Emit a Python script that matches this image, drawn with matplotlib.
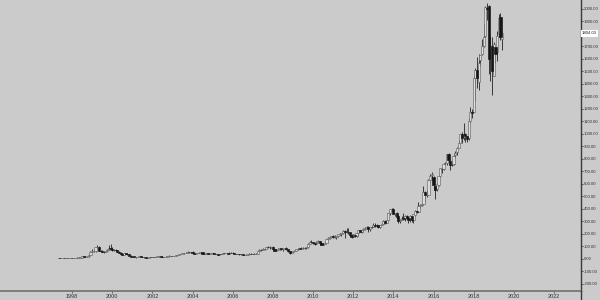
import numpy as np
import matplotlib
matplotlib.use("Agg")
import matplotlib.pyplot as plt
from matplotlib.lines import Line2D
import matplotlib.transforms as mtransforms

# Monthly OHLC, starting May 1997
start_year, start_month = 1997, 5

opens = [
    2.44, 1.73, 1.60, 2.50, 2.20, 4.40, 4.20, 4.70,
    5.0, 4.9, 5.5, 7.0, 7.9, 8.1, 8.2, 19.0, 14.0, 16.3, 16.8, 29.0,
    53.5, 58.5, 64.1, 88.8, 96.5, 58.9, 62.6, 56.5, 55.3, 64.0, 70.6, 85.1,
    76.1, 64.6, 68.9, 67.0, 55.2, 48.3, 36.3, 30.1, 41.5, 38.4, 36.6, 24.2,
    15.6, 17.3, 10.2, 10.2, 15.8, 16.7, 14.2, 12.5, 8.9, 6.0, 6.9, 11.0,
    10.8, 14.2, 14.1, 14.3, 16.7, 18.2, 16.3, 14.5, 14.9, 15.9, 19.4, 23.4,
    18.9, 21.9, 22.0, 26.0, 28.7, 35.9, 36.3, 41.6, 46.3, 48.4, 54.4, 48.7,
    52.6, 43.0, 40.1, 43.3, 43.6, 48.5, 54.4, 38.9, 38.1, 40.9, 34.1, 39.7,
    44.3, 43.2, 36.0, 34.3, 32.4, 35.5, 33.1, 45.2, 42.7, 45.3, 39.9, 48.5,
    47.2, 45.0, 37.4, 36.5, 35.2, 34.6, 38.7, 27.0, 30.8, 32.1, 38.1, 40.3,
    39.5, 37.7, 39.1, 39.8, 61.3, 69.1, 68.4, 78.5, 79.9, 93.2, 89.2, 90.6,
    92.6, 77.7, 64.5, 71.3, 78.6, 81.6, 73.3, 76.3, 80.8, 72.8, 57.2, 42.7,
    51.4, 58.6, 64.3, 74.0, 80.8, 77.7, 83.7, 85.8, 81.2, 92.7, 118.3, 136.6,
    136.3, 125.3, 118.7, 135.7, 137.9, 126.0, 108.6, 118.3, 124.7, 157.1, 164.5, 176.7,
    181.4, 170.5, 173.5, 181.6, 196.6, 196.3, 205.6, 221.7, 213.8, 214.0, 212.2, 190.3,
    175.9, 190.4, 179.3, 203.6, 229.3, 212.2, 225.5, 234.3, 246.6, 254.7, 234.2, 253.1,
    256.1, 266.0, 266.3, 266.0, 251.3, 267.0, 278.0, 303.0, 287.9, 310.6, 362.5, 394.6,
    398.8, 356.8, 362.0, 338.0, 304.1, 312.2, 326.3, 313.7, 339.0, 321.1, 305.3, 338.6,
    312.6, 350.1, 380.9, 372.1, 423.6, 428.7, 434.4, 537.0, 507.3, 510.0, 627.1, 666.0,
    656.3, 578.2, 556.3, 590.5, 663.9, 720.0, 720.0, 767.0, 769.3, 836.0, 785.0, 752.4,
    757.9, 829.2, 853.1, 888.0, 927.8, 998.6, 972.8, 996.1, 984.2, 964.0, 1105.4, 1172.1,
    1172.0, 1445.0, 1513.6, 1416.0, 1589.0, 1637.0, 1707.0, 1784.0, 2007.0, 2022.0, 1678.5, 1705.1,
    1465.2, 1692.9, 1655.1, 1800.1, 1933.1, 1760.0,
]
highs = [
    2.50, 2.00, 2.60, 2.80, 4.50, 4.95, 5.40, 5.30,
    5.6, 6.0, 7.4, 8.6, 8.7, 8.9, 22.0, 20.0, 17.5, 17.5, 33.0, 58.0,
    73.0, 68.0, 92.0, 110.6, 97.0, 68.0, 68.0, 62.0, 69.0, 74.0, 106.7, 113.0,
    91.5, 75.0, 75.0, 69.0, 58.0, 51.0, 47.0, 45.0, 47.0, 41.0, 39.0, 26.0,
    22.0, 17.5, 13.0, 16.4, 17.5, 17.4, 16.0, 13.0, 9.6, 8.0, 11.2, 12.0,
    14.8, 15.0, 16.3, 17.5, 19.1, 19.7, 16.5, 15.5, 17.5, 20.0, 25.0, 24.0,
    22.6, 23.7, 26.8, 30.0, 36.9, 38.5, 42.5, 48.0, 50.4, 61.2, 56.0, 53.8,
    57.8, 44.5, 44.8, 47.1, 49.6, 55.4, 54.5, 40.0, 43.7, 41.9, 41.8, 45.2,
    44.9, 43.5, 37.0, 35.3, 36.7, 36.3, 46.4, 46.1, 46.1, 45.6, 49.0, 50.0,
    48.6, 45.2, 38.6, 38.9, 36.2, 39.0, 38.9, 31.5, 33.4, 38.6, 41.8, 41.4,
    40.0, 42.8, 41.5, 63.8, 74.7, 74.7, 84.9, 80.8, 94.5, 101.1, 96.8, 96.2,
    97.4, 78.6, 75.9, 83.0, 84.9, 83.0, 79.6, 88.0, 89.4, 72.5, 59.6, 59.0,
    61.0, 67.0, 75.9, 83.5, 83.0, 90.2, 91.9, 85.9, 96.0, 121.1, 139.2, 145.9,
    136.6, 127.0, 138.6, 150.0, 139.0, 129.2, 124.8, 130.8, 160.2, 169.9, 177.6, 182.9,
    191.6, 191.4, 181.6, 197.8, 206.4, 205.1, 227.8, 227.5, 244.0, 246.7, 216.8, 198.4,
    197.4, 191.2, 205.6, 232.7, 232.6, 228.7, 241.4, 249.2, 264.1, 262.6, 253.5, 261.2,
    286.1, 284.7, 276.0, 272.6, 272.0, 284.4, 307.5, 305.4, 317.9, 368.4, 394.3, 405.6,
    408.1, 364.9, 375.9, 349.2, 315.0, 337.1, 368.7, 345.3, 350.2, 334.2, 352.8, 341.8,
    359.5, 389.4, 390.0, 452.6, 433.4, 446.0, 580.6, 541.5, 550.0, 635.8, 675.0, 696.4,
    657.7, 581.8, 603.2, 670.0, 724.2, 731.5, 766.0, 774.4, 839.0, 847.2, 793.0, 791.3,
    843.8, 860.9, 890.4, 949.6, 1001.2, 1017.0, 1083.3, 1006.2, 985.4, 1122.8, 1213.4, 1194.8,
    1472.6, 1528.7, 1617.5, 1638.1, 1635.0, 1763.1, 1880.1, 2025.6, 2050.5, 2033.2, 1784.0, 1778.3,
    1736.4, 1697.0, 1823.8, 1956.3, 1964.4, 1806.0,
]
lows = [
    1.31, 1.44, 1.55, 2.10, 2.15, 3.40, 3.90, 4.40,
    4.4, 4.7, 5.4, 6.8, 7.3, 7.6, 8.0, 13.0, 13.0, 11.5, 16.0, 27.0,
    50.0, 55.0, 56.0, 80.0, 57.0, 49.0, 53.0, 48.0, 51.0, 60.0, 66.0, 75.0,
    58.0, 63.0, 59.0, 51.0, 41.0, 34.0, 28.7, 29.0, 36.0, 28.0, 22.0, 14.9,
    13.5, 10.0, 8.1, 8.9, 13.8, 12.0, 12.0, 8.4, 5.5, 5.7, 6.8, 9.2,
    10.0, 12.7, 13.5, 14.0, 15.5, 15.8, 10.0, 12.8, 13.5, 15.0, 19.0, 18.5,
    18.3, 20.6, 21.5, 24.9, 28.1, 33.0, 35.2, 40.3, 42.3, 45.5, 47.6, 48.4,
    41.0, 38.6, 38.9, 41.9, 41.5, 47.3, 37.1, 36.8, 37.4, 32.9, 33.3, 39.1,
    39.1, 34.6, 33.4, 30.6, 32.3, 32.8, 33.0, 41.1, 41.0, 39.0, 39.3, 44.3,
    44.5, 36.6, 35.0, 34.2, 31.5, 32.0, 25.8, 26.1, 29.0, 31.1, 37.1, 38.0,
    36.3, 35.3, 36.9, 38.6, 58.9, 65.4, 66.0, 67.1, 79.2, 84.0, 79.4, 88.0,
    69.6, 63.5, 61.4, 70.0, 69.0, 70.7, 63.8, 75.1, 64.6, 48.8, 34.7, 41.2,
    47.6, 56.8, 60.9, 70.6, 73.7, 77.0, 79.0, 78.8, 78.3, 86.1, 115.5, 125.9,
    115.0, 111.3, 115.0, 128.4, 105.8, 108.2, 105.3, 117.6, 124.0, 148.5, 157.5, 170.5,
    161.2, 167.8, 160.6, 175.8, 190.9, 181.6, 201.8, 166.9, 201.6, 194.5, 177.7, 167.0,
    171.4, 175.7, 176.2, 184.2, 210.0, 208.4, 212.6, 229.1, 242.9, 215.4, 224.4, 245.5,
    253.2, 255.3, 256.4, 246.3, 246.0, 266.0, 273.0, 278.0, 284.7, 300.5, 348.8, 380.0,
    356.5, 342.5, 318.3, 284.0, 284.4, 310.3, 309.7, 304.9, 320.8, 284.4, 296.1, 292.0,
    285.3, 344.0, 368.2, 370.3, 408.2, 422.1, 431.1, 452.0, 490.6, 506.0, 616.5, 627.9,
    547.2, 474.0, 538.6, 585.3, 656.0, 682.1, 708.0, 752.0, 753.4, 775.0, 710.1, 740.0,
    747.7, 803.0, 833.5, 884.5, 927.8, 927.0, 951.0, 931.4, 937.4, 950.4, 1086.9, 1124.7,
    1170.5, 1265.9, 1365.2, 1352.9, 1546.0, 1635.1, 1698.6, 1776.0, 1912.5, 1476.4, 1420.0, 1307.0,
    1460.9, 1566.8, 1586.6, 1775.7, 1749.0, 1672.0,
]
closes = [
    1.73, 1.60, 2.50, 2.20, 4.40, 4.20, 4.70, 5.02,
    4.9, 5.5, 7.0, 7.9, 8.1, 8.2, 19.0, 14.0, 16.3, 16.8, 29.0, 53.5,
    58.5, 64.1, 88.8, 96.5, 58.9, 62.6, 56.5, 55.3, 64.0, 70.6, 85.1, 76.1,
    64.6, 68.9, 67.0, 55.2, 48.3, 36.3, 30.1, 41.5, 38.4, 36.6, 24.2, 15.6,
    17.3, 10.2, 10.2, 15.8, 16.7, 14.2, 12.5, 8.9, 6.0, 6.9, 11.0, 10.8,
    14.2, 14.1, 14.3, 16.7, 18.2, 16.3, 14.5, 14.9, 15.9, 19.4, 23.4, 18.9,
    21.9, 22.0, 26.0, 28.7, 35.9, 36.3, 41.6, 46.3, 48.4, 54.4, 48.7, 52.6,
    43.0, 40.1, 43.3, 43.6, 48.5, 54.4, 38.9, 38.1, 40.9, 34.1, 39.7, 44.3,
    43.2, 36.0, 34.3, 32.4, 35.5, 33.1, 45.2, 42.7, 45.3, 39.9, 48.5, 47.2,
    45.0, 37.4, 36.5, 35.2, 34.6, 38.7, 27.0, 30.8, 32.1, 38.1, 40.3, 39.5,
    37.7, 39.1, 39.8, 61.3, 69.1, 68.4, 78.5, 79.9, 93.2, 89.2, 90.6, 92.6,
    77.7, 64.5, 71.3, 78.6, 81.6, 73.3, 76.3, 80.8, 72.8, 57.2, 42.7, 51.3,
    58.8, 64.8, 73.4, 80.5, 78.0, 83.7, 85.8, 81.2, 93.4, 118.8, 135.9, 134.5,
    125.4, 118.4, 135.8, 137.1, 125.5, 109.3, 117.9, 124.8, 157.1, 165.2, 175.4, 180.0,
    169.6, 173.3, 180.1, 195.8, 196.7, 204.5, 222.5, 215.2, 216.2, 213.5, 192.3, 173.1,
    194.4, 179.7, 202.5, 231.9, 212.9, 228.4, 233.3, 248.3, 254.3, 232.9, 252.1, 250.9,
    265.5, 264.3, 266.5, 253.8, 269.2, 277.7, 301.2, 281.0, 312.6, 364.0, 393.6, 398.8,
    358.7, 362.1, 336.4, 304.1, 312.6, 324.8, 313.0, 339.0, 322.4, 305.5, 338.6, 310.4,
    354.5, 380.2, 372.1, 421.8, 429.2, 434.1, 536.2, 512.9, 511.9, 625.9, 664.8, 675.9,
    587.0, 552.5, 593.6, 659.6, 722.8, 715.6, 758.8, 769.2, 837.3, 789.8, 750.6, 749.9,
    823.5, 845.0, 886.5, 925.0, 994.6, 968.0, 987.8, 980.6, 961.4, 1105.3, 1176.8, 1169.5,
    1450.9, 1512.5, 1447.3, 1566.1, 1629.6, 1699.8, 1777.4, 2012.7, 2003.0, 1598.0, 1690.2, 1502.0,
    1718.7, 1639.8, 1780.8, 1926.5, 1775.1, 1804.03,
]

year_ticks = list(range(1998, 2023, 2))
price_ticks = list(range(-200, 2001, 100))
hidden_price_tick = 1800  # covered by the last-price marker in the reference
last_label = "1804.03"

o = np.array(opens); h = np.array(highs); l = np.array(lows); c = np.array(closes)
n = len(c)
x = np.array([start_year + (start_month - 1 + i) / 12.0 for i in range(n)])

plt.rcParams["font.family"] = ["Liberation Sans", "DejaVu Sans"]

BG = "#cbcbcb"
fig = plt.figure(figsize=(6, 3), dpi=100, facecolor=BG)
ax = fig.add_axes([0, 9.5 / 300, 580.5 / 600, 290.5 / 300], facecolor=BG)

# wicks
ax.vlines(x, l, h, color="#222222", lw=0.6, zorder=2)
# bodies
up = c >= o
bottoms = np.minimum(o, c)
heights = np.maximum(np.abs(c - o), 1.0)
ax.bar(x[up], heights[up], bottom=bottoms[up], width=0.11,
       color="#dcdcdc", edgecolor="#666666", linewidth=0.45, zorder=3)
ax.bar(x[~up], heights[~up], bottom=bottoms[~up], width=0.11,
       color="#151515", edgecolor="#151515", linewidth=0.45, zorder=3)

ax.set_xlim(1994.41, 2023.32)
ax.set_ylim(-256, 2072)

for s in ["top", "left"]:
    ax.spines[s].set_visible(False)
ax.spines["right"].set_color("#3a3a3a")
ax.spines["right"].set_linewidth(1.0)
ax.spines["bottom"].set_color("#707070")
ax.spines["bottom"].set_linewidth(1.2)

ax.yaxis.tick_right()
ax.set_yticks(price_ticks)
ax.set_yticklabels(["" if v == hidden_price_tick else f"{v:.2f}" for v in price_ticks])
ax.tick_params(axis="y", direction="out", length=1.5, width=0.6, color="#3a3a3a",
               pad=0.8, labelsize=3.1, labelcolor="#333333")
ax.set_xticks(year_ticks)
ax.set_xticklabels([str(v) for v in year_ticks])
ax.tick_params(axis="x", direction="out", length=1.5, width=0.6, color="#555555",
               pad=1.2, labelsize=4.0, labelcolor="#333333")

# extend the right axis line to the bottom of the figure
fig.add_artist(Line2D([580.5 / 600, 580.5 / 600], [0, 9.5 / 300],
                      color="#3a3a3a", lw=1.0, transform=fig.transFigure))

# last price label
trans = mtransforms.blended_transform_factory(ax.transAxes, ax.transData)
ax.text(1.002, c[-1], last_label, transform=trans, ha="left", va="center",
        fontsize=3.1, color="#222222", clip_on=False, zorder=5,
        bbox=dict(boxstyle="square,pad=0.25", facecolor="white", edgecolor="none"))

fig.savefig("out.png", dpi=100, facecolor=BG)
